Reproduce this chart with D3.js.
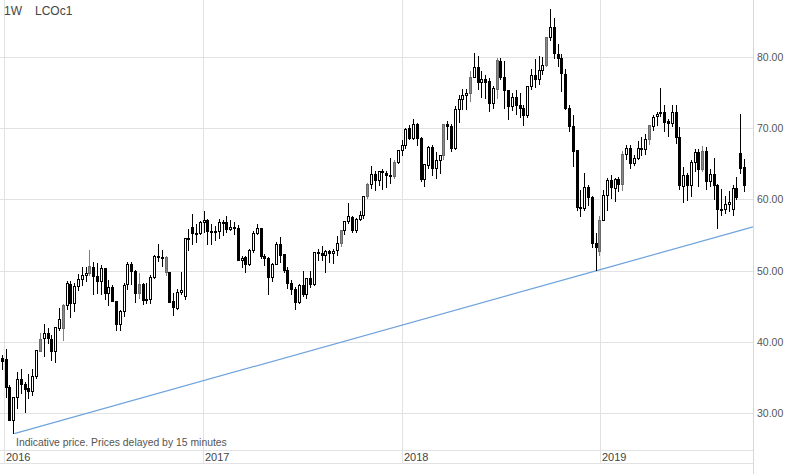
<!DOCTYPE html>
<html><head><meta charset="utf-8">
<script src="https://cdn.jsdelivr.net/npm/d3@7"></script>
<style>
html,body{margin:0;padding:0;background:#fff;}
svg{display:block;font-family:Arial,"Liberation Sans",sans-serif;}
</style></head>
<body><svg id="c" width="787" height="474"></svg>
<script>
// ---- data (weekly candles, LCOc1) ----
const firstWeek = "2015-12-28";
const open = [37.6,37.5,33.6,28.9,32.2,34.7,34.0,33.4,33.0,35.1,38.7,40.4,41.2,40.3,38.6,41.9,41.8,45.1,48.1,45.4,47.8,48.7,49.3,49.6,50.5,49.2,48.4,50.3,46.8,47.6,45.6,42.5,44.3,48.0,50.9,49.9,46.8,48.0,45.8,45.9,49.1,51.9,51.9,51.8,49.7,45.6,44.7,46.9,46.4,54.5,56.0,55.2,55.2,
56.8,57.1,55.4,55.5,55.5,56.8,56.7,55.8,56.0,55.9,51.4,51.8,50.8,52.8,55.2,55.9,52.0,51.7,49.1,50.8,53.6,52.2,50.0,48.2,47.4,45.5,47.9,46.7,48.9,48.1,52.5,52.4,52.1,52.7,52.4,52.8,53.8,55.6,56.9,57.5,55.6,57.2,57.7,60.4,62.1,63.5,62.7,63.9,63.7,63.4,63.2,65.2,
66.9,67.6,69.9,68.6,70.5,68.6,62.8,64.8,67.3,64.4,65.5,66.2,70.5,70.3,67.1,72.6,74.1,74.6,74.9,77.1,78.5,76.4,76.8,76.5,73.4,75.5,79.4,77.1,75.3,73.1,74.3,73.2,72.8,71.8,75.8,77.4,76.8,78.1,78.8,82.7,84.2,80.4,79.8,77.6,72.8,70.2,66.8,58.8,58.7,61.7,60.3,53.8,52.7,
57.1,60.5,62.7,61.6,62.8,62.1,66.3,67.1,65.1,65.7,67.2,67.0,68.4,70.3,71.6,72.0,72.2,70.9,70.6,72.2,68.7,61.8,63.3,62.0,65.2,66.6,64.2,66.7,62.5,63.5,61.9,58.5,58.6,59.3,58.6,61.5,66.4,64.5];
const high = [38.2,39.0,34.0,32.3,35.8,36.2,34.3,35.5,36.2,38.9,41.2,42.5,42.0,41.0,42.0,44.7,45.3,48.5,48.5,48.2,49.5,50.5,50.5,52.9,51.2,51.0,50.8,50.4,48.7,48.0,45.8,44.5,48.3,51.2,51.2,50.1,49.6,48.2,48.2,49.4,52.2,53.7,52.9,52.0,49.8,46.9,47.4,49.8,54.5,55.9,57.9,56.5,56.9,
58.4,57.2,56.6,56.2,57.2,57.1,57.6,57.1,56.8,56.4,52.0,52.0,53.1,55.5,56.6,56.0,52.3,51.9,51.0,54.0,54.7,52.4,50.5,48.7,47.7,48.1,50.0,49.0,49.9,52.6,53.0,53.4,52.9,52.9,53.0,54.8,55.7,56.9,59.5,57.7,57.4,58.4,60.5,62.3,64.7,64.0,64.0,64.2,64.0,65.8,65.5,67.0,
68.3,70.05,70.4,71.3,70.7,68.8,65.0,67.5,67.7,66.6,66.3,70.6,71.0,70.6,73.1,74.7,75.5,75.5,78.0,80.5,80.2,78.0,77.5,77.1,75.9,79.9,79.9,79.4,75.3,75.0,75.3,74.9,73.3,75.9,78.3,79.7,80.1,80.0,82.7,86.74,85.5,81.8,80.4,78.3,73.3,71.8,67.0,61.3,63.7,62.0,60.5,55.3,57.6,
61.3,63.0,63.4,63.0,63.2,66.8,67.6,67.7,66.2,68.2,68.7,69.2,70.4,71.8,72.3,75.6,73.3,71.3,73.3,73.2,70.2,64.6,63.7,65.5,67.1,67.1,67.5,67.4,64.3,65.8,62.1,61.5,60.5,61.2,62.0,63.2,71.95,65.7];
const low = [35.98,32.16,28.82,27.10,30.5,32.7,30.0,31.9,32.4,34.8,38.6,37.9,39.7,37.3,37.0,41.5,40.1,44.5,43.3,44.2,47.2,47.8,48.4,49.3,46.6,46.7,46.6,45.9,45.0,45.7,41.5,41.5,43.5,47.3,48.0,45.5,46.0,45.1,45.3,45.3,48.8,51.2,50.5,49.2,45.5,43.6,44.5,46.6,45.9,52.8,53.6,53.9,55.0,
55.3,53.6,53.6,54.1,54.5,54.9,55.3,55.6,55.0,51.3,50.3,49.7,50.6,52.5,55.0,51.6,50.6,46.6,48.4,50.8,51.0,49.6,47.4,46.6,44.4,45.3,46.3,46.0,47.6,47.9,51.4,51.4,49.7,51.0,50.9,52.0,53.3,55.0,56.5,55.3,55.3,56.9,57.3,60.0,61.5,61.2,61.9,61.3,61.6,62.2,62.8,65.0,
66.1,67.1,68.3,68.4,67.5,62.5,61.8,64.2,63.3,62.9,63.6,65.5,68.3,66.6,67.0,70.8,72.6,72.5,73.7,77.0,75.3,74.3,74.1,72.3,72.7,74.1,76.7,72.7,71.2,72.4,71.9,71.5,70.3,71.4,75.3,75.6,76.0,77.5,78.6,82.3,79.7,78.6,75.1,72.5,69.5,64.6,58.4,57.5,58.4,59.1,53.2,50.0,52.0,
56.9,58.4,60.1,59.7,61.0,61.2,65.6,64.3,64.7,65.5,66.1,66.3,67.7,69.6,70.3,71.6,69.5,68.7,70.2,67.8,61.3,59.5,59.8,60.3,63.9,61.8,63.8,61.3,61.7,59.9,55.9,57.6,57.9,58.3,57.7,59.9,63.5,61.0];
const close = [37.28,33.55,28.94,32.18,34.74,34.06,33.36,33.01,35.10,38.72,40.39,41.20,40.44,38.67,41.94,43.10,45.11,48.13,45.37,47.83,48.72,49.32,49.64,50.54,49.17,48.41,50.35,46.76,47.61,45.69,42.46,44.27,47.97,50.88,49.92,46.83,48.01,45.77,45.89,49.06,51.93,51.95,51.78,49.71,45.58,44.75,46.86,47.24,54.46,54.33,55.21,55.16,56.82,
57.10,55.45,55.49,55.52,56.81,56.70,55.81,55.99,55.90,51.37,51.76,50.80,52.83,55.24,55.89,51.96,51.73,49.10,50.84,53.61,52.15,49.95,48.15,47.37,45.54,47.92,46.71,48.91,48.06,52.52,52.42,52.10,52.72,52.41,52.75,53.78,55.62,56.86,57.54,55.62,57.17,57.75,60.44,62.07,63.52,62.72,63.86,63.73,63.40,63.23,65.25,66.87,
67.62,69.87,68.61,70.52,68.58,62.79,64.84,67.31,64.37,65.49,66.21,70.45,70.27,67.11,72.58,74.06,74.64,74.87,77.12,78.51,76.44,76.79,76.46,73.44,75.55,79.44,77.11,75.33,73.07,74.29,73.21,72.81,71.83,75.82,77.42,76.83,78.09,78.80,82.72,84.16,80.43,79.78,77.62,72.83,70.18,66.76,58.80,58.71,61.67,60.28,53.82,53.20,57.06,
60.48,62.70,61.64,62.75,62.10,66.25,67.12,65.07,65.74,67.16,67.03,68.39,70.34,71.55,71.97,72.15,70.85,70.62,72.21,68.69,61.90,63.29,62.01,65.20,66.55,64.23,66.72,62.47,63.46,61.89,58.53,58.64,59.34,59.50,61.54,60.22,64.28,61.91];
// candles drawn with a grey body in the reference
const grayWeeks = ["2016-03-07","2016-04-18","2016-06-06","2016-09-05","2016-10-24","2017-09-11","2017-10-30","2017-12-18","2018-03-19","2018-05-07","2018-06-25","2018-09-24","2018-12-31","2019-02-11","2019-04-01","2019-07-08"];
// support line anchors [date, price]
const trendAnchors = [["2016-01-20", 27.10], ["2018-12-26", 50.00]];
const yTicks = [30, 40, 50, 60, 70, 80];
const yearTicks = ["2016-01-01", "2017-01-01", "2018-01-01", "2019-01-01"];
const title = ["1W", "LCOc1"];
const footnote = "Indicative price. Prices delayed by 15 minutes";

// ---- drawing ----
const W = 787, H = 474;
const plotRight = 753, plotBottom = 450;
const parse = d3.utcParse("%Y-%m-%d");
const fmtDay = d3.utcFormat("%Y-%m-%d");
const start = parse(firstWeek);
const data = close.map((c, i) => {
  const date = d3.utcWeek.offset(start, i);
  return {date, o: open[i], h: high[i], l: low[i], c,
    gray: grayWeeks.includes(fmtDay(d3.utcMonday.floor(date)))};
});

const x = d3.scaleUtc().domain([parse("2016-01-01"), parse("2019-01-01")]).range([4, 600]);
const y = d3.scaleLinear().domain([30, 80]).range([413, 57]);

const svg = d3.select("#c");
svg.append("rect").attr("width", W).attr("height", H).attr("fill", "#fff");

const grid = svg.append("g").attr("shape-rendering", "crispEdges").attr("stroke", "#e2e2e2").attr("stroke-width", 1);
yTicks.forEach(v => {
  const yy = Math.round(y(v)) + 0.5;
  grid.append("line").attr("x1", 0).attr("x2", plotRight).attr("y1", yy).attr("y2", yy);
});
yearTicks.forEach(d => {
  const xx = Math.round(x(parse(d))) + 0.5;
  grid.append("line").attr("x1", xx).attr("x2", xx).attr("y1", 0).attr("y2", 463);
});
grid.append("line").attr("x1", 0).attr("x2", plotRight).attr("y1", plotBottom + 0.5).attr("y2", plotBottom + 0.5);
grid.append("line").attr("x1", 0).attr("x2", plotRight).attr("y1", 463.5).attr("y2", 463.5);
grid.append("line").attr("x1", plotRight + 0.5).attr("x2", plotRight + 0.5).attr("y1", 0).attr("y2", H).attr("stroke", "#d8d8d8");

// y labels
svg.append("g").selectAll("text").data(yTicks).join("text")
  .attr("x", 757).attr("y", d => y(d) + 4)
  .attr("font-size", 10.5).attr("fill", "#555").text(d => d3.format(".2f")(d));

// year labels
svg.append("g").selectAll("text").data(yearTicks).join("text")
  .attr("x", d => Math.round(x(parse(d))) + 2).attr("y", 461)
  .attr("font-size", 11).attr("fill", "#444").text(d => d.slice(0, 4));

// trend line extended to right edge
const a0 = [parse(trendAnchors[0][0]), trendAnchors[0][1]];
const a1 = [parse(trendAnchors[1][0]), trendAnchors[1][1]];
const endDate = x.invert(plotRight);
const slope = (a1[1] - a0[1]) / (a1[0] - a0[0]);
const endVal = a0[1] + slope * (endDate - a0[0]);
svg.append("path")
  .attr("d", d3.line().x(d => x(d[0])).y(d => y(d[1]))([a0, a1, [endDate, endVal]]))
  .attr("fill", "none").attr("stroke", "#6fa3dc").attr("stroke-width", 1.2);

// candles
const cg = svg.append("g").attr("shape-rendering", "crispEdges");
const candles = cg.selectAll("g").data(data).join("g");
candles.append("line")
  .attr("x1", d => Math.round(x(d.date)) + 0.5).attr("x2", d => Math.round(x(d.date)) + 0.5)
  .attr("y1", d => y(d.h)).attr("y2", d => y(d.l))
  .attr("stroke", d => d.gray ? "#808080" : "#000").attr("stroke-width", 1);
candles.append("rect")
  .attr("x", d => Math.round(x(d.date)) - 0.5)
  .attr("width", 2)
  .attr("y", d => y(Math.max(d.o, d.c)))
  .attr("height", d => Math.max(1, Math.abs(y(d.o) - y(d.c))))
  .attr("fill", d => d.gray ? "#8a8a8a" : (d.c >= d.o ? "#fff" : "#000"))
  .attr("stroke", d => d.gray ? "#6a6a6a" : "#000").attr("stroke-width", 1);

// title & footnote
svg.append("text").attr("x", 4).attr("y", 15).attr("font-size", 12).attr("fill", "#444").text(title[0]);
svg.append("text").attr("x", 35).attr("y", 15).attr("font-size", 12).attr("fill", "#444").text(title[1]);
svg.append("text").attr("x", 16).attr("y", 446).attr("font-size", 10.4).attr("fill", "#555").text(footnote);
</script></body></html>
